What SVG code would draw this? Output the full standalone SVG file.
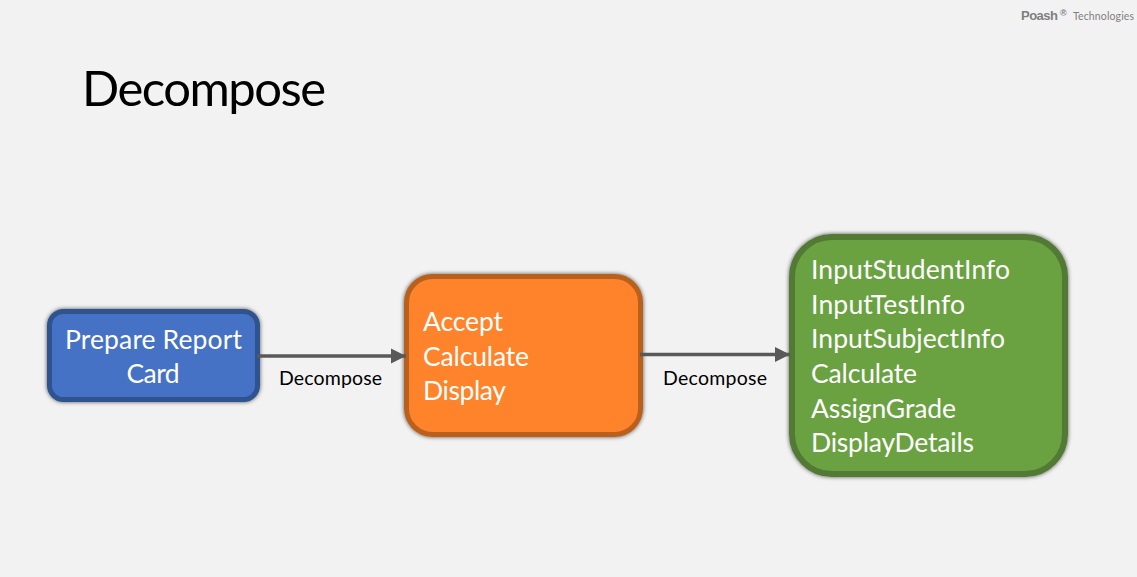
<svg xmlns="http://www.w3.org/2000/svg" width="1137" height="577" viewBox="0 0 1137 577">
<style>
text{font-family:"Lato","Open Sans","Liberation Sans",sans-serif}
.n{fill:#fff;font-size:26.500px}
.l{fill:#000;font-size:19.500px}
.c{stroke:#595959;stroke-width:3.4;fill:none;marker-end:url(#a)}
</style>
<defs>
<marker id="a" markerUnits="userSpaceOnUse" markerWidth="18" markerHeight="18" refX="16" refY="9" orient="auto"><path d="M1 1.5L16 9L1 16.500Z" fill="#595959"/></marker>
<filter id="s" x="-10%" y="-10%" width="120%" height="120%"><feGaussianBlur in="SourceAlpha" stdDeviation="2.200"/><feColorMatrix values="0 0 0 0 0 0 0 0 0 0 0 0 0 0 0 0 0 0 .65 0"/><feMerge><feMergeNode/><feMergeNode in="SourceGraphic"/></feMerge></filter>
</defs>
<rect width="1137" height="577" fill="#f2f2f2"/>
<g id="logo"><text x="1021" y="20" font-size="13" font-weight="700" fill="#7f7f7f" style="font-family:'Liberation Sans',sans-serif" textLength="37">Poash</text><text x="1060" y="16" font-size="9" font-weight="700" fill="#7f7f7f" style="font-family:'Liberation Sans',sans-serif">®</text><text x="1073" y="20" font-size="10.500" fill="#7f7f7f" textLength="61">Technologies</text></g>
<text id="title" x="82" y="106" font-size="49" fill="#000" textLength="244">Decompose</text>
<g id="node-prepare"><rect x="49.500" y="311.500" width="208" height="88" rx="14" fill="#4472c4" stroke="#2f528f" stroke-width="5" filter="url(#s)"/>
<text class="n" x="153.500" y="349" text-anchor="middle" textLength="177">Prepare Report</text><text class="n" x="153" y="383" text-anchor="middle" textLength="53">Card</text></g>
<g id="node-accept"><rect x="406.500" y="276.500" width="234" height="158" rx="26" fill="#fe832b" stroke="#b9611f" stroke-width="5" filter="url(#s)"/>
<text class="n" x="423" y="331" textLength="80">Accept</text><text class="n" x="423" y="366" textLength="106">Calculate</text><text class="n" x="423" y="400" textLength="83">Display</text></g>
<g id="node-steps"><rect x="792" y="237" width="273" height="237" rx="40" fill="#6ba243" stroke="#527a36" stroke-width="6" filter="url(#s)"/>
<text class="n" x="811" y="279" textLength="199">InputStudentInfo</text><text class="n" x="811" y="314" textLength="154">InputTestInfo</text><text class="n" x="811" y="348" textLength="194">InputSubjectInfo</text><text class="n" x="811" y="383" textLength="106">Calculate</text><text class="n" x="811" y="418" textLength="145">AssignGrade</text><text class="n" x="811" y="452" textLength="163">DisplayDetails</text></g>
<g id="connectors">
<line class="c" x1="257" y1="356" x2="406" y2="356"/>
<line class="c" x1="640" y1="354.500" x2="790" y2="354.500"/>
</g>
<text id="label-1" class="l" x="279" y="385" textLength="103">Decompose</text>
<text id="label-2" class="l" x="663" y="385" textLength="104">Decompose</text>
</svg>
